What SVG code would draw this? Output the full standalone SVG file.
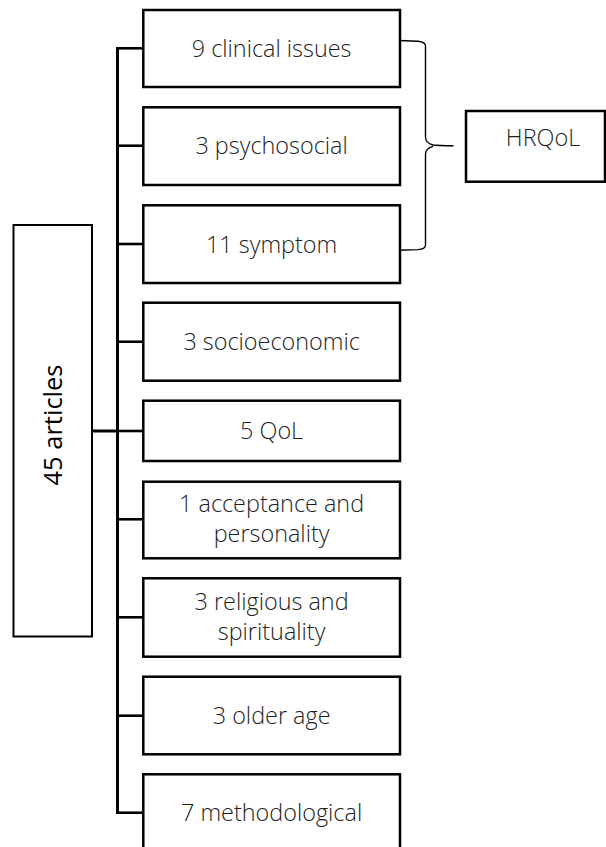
<svg xmlns="http://www.w3.org/2000/svg" width="606" height="847" viewBox="0 0 606 847">
  <style>
    .box { fill: #ffffff; stroke: #000000; stroke-width: 2.5; }
    .main { fill: #ffffff; stroke: #000000; stroke-width: 2; }
    .lbl { font-family: "Open Sans", "Liberation Sans", sans-serif; font-size: 23.4px; font-weight: 300; fill: #1e1e1e; text-anchor: middle; }
    .big { font-family: "Open Sans", "Liberation Sans", sans-serif; font-size: 25.5px; font-weight: 400; fill: #000000; text-anchor: middle; }
    .wire { stroke: #000000; stroke-width: 2.6; fill: none; }
    .trunk { stroke: #000000; stroke-width: 3; fill: none; }
    .brace { stroke: #000000; stroke-width: 1.4; fill: none; }
  </style>

  <rect width="606" height="847" fill="#ffffff"/>

  <!-- connectors: trunk, branches and brace -->
  <g id="connectors">
    <line class="trunk" x1="117.5" y1="47" x2="117.5" y2="814"/>
    <line class="trunk" x1="92" y1="431" x2="117.5" y2="431"/>
    <line class="wire" x1="116" y1="48.3" x2="143" y2="48.3"/>
    <line class="wire" x1="116" y1="145.7" x2="143" y2="145.7"/>
    <line class="wire" x1="116" y1="244" x2="143" y2="244"/>
    <line class="wire" x1="116" y1="341.7" x2="143" y2="341.7"/>
    <line class="wire" x1="116" y1="431" x2="143" y2="431"/>
    <line class="wire" x1="116" y1="519.3" x2="143" y2="519.3"/>
    <line class="wire" x1="116" y1="617.3" x2="143" y2="617.3"/>
    <line class="wire" x1="116" y1="715.7" x2="143" y2="715.7"/>
    <line class="wire" x1="116" y1="812.7" x2="143" y2="812.7"/>
    <path class="brace" d="M398,40.5 L418,41.2 Q425.5,42 425.5,46 L425.5,137 Q425.5,143 433,145 Q438,145.7 453.5,145.7 M433,146.4 Q425.5,148.4 425.5,154 L425.5,245 Q425.5,249 418,249.6 L398,250.3"/>
  </g>

  <g id="n-articles">
    <rect class="main" x="13.5" y="225" width="78.5" height="411.5"/>
    <text class="big" transform="translate(61.5,425) rotate(-90)">45 articles</text>
  </g>

  <g id="n-clinical">
    <rect class="box" x="143.3" y="10" width="256.7" height="77"/>
    <text class="lbl" x="271.6" y="56.8">9 clinical issues</text>
  </g>

  <g id="n-psychosocial">
    <rect class="box" x="143.3" y="107.3" width="256.7" height="77.7"/>
    <text class="lbl" x="271.6" y="154.3">3 psychosocial</text>
  </g>

  <g id="n-symptom">
    <rect class="box" x="143.3" y="205.3" width="256.7" height="77.7"/>
    <text class="lbl" x="271.6" y="252.6">11 symptom</text>
  </g>

  <g id="n-socioeconomic">
    <rect class="box" x="143.3" y="302.7" width="256.7" height="78"/>
    <text class="lbl" x="271.6" y="350.3">3 socioeconomic</text>
  </g>

  <g id="n-qol">
    <rect class="box" x="143.3" y="400.7" width="256.7" height="60.3"/>
    <text class="lbl" x="271.6" y="438.8">5 QoL</text>
  </g>

  <g id="n-acceptance">
    <rect class="box" x="143.3" y="481.7" width="256.7" height="76.6"/>
    <text class="lbl" x="271.6" y="512">1 acceptance and</text>
    <text class="lbl" x="271.6" y="542">personality</text>
  </g>

  <g id="n-religious">
    <rect class="box" x="143.3" y="578.3" width="256.7" height="78.4"/>
    <text class="lbl" x="271.6" y="610">3 religious and</text>
    <text class="lbl" x="271.6" y="640">spirituality</text>
  </g>

  <g id="n-older">
    <rect class="box" x="143.3" y="676.7" width="256.7" height="77.6"/>
    <text class="lbl" x="271.6" y="724.3">3 older age</text>
  </g>

  <g id="n-methodological">
    <rect class="box" x="143.3" y="774.3" width="256.7" height="80"/>
    <text class="lbl" x="271.6" y="821.3">7 methodological</text>
  </g>

  <g id="n-hrqol">
    <rect class="box" x="466" y="111" width="139" height="70.7"/>
    <text class="lbl" x="543" y="146.3">HRQoL</text>
  </g>
</svg>
